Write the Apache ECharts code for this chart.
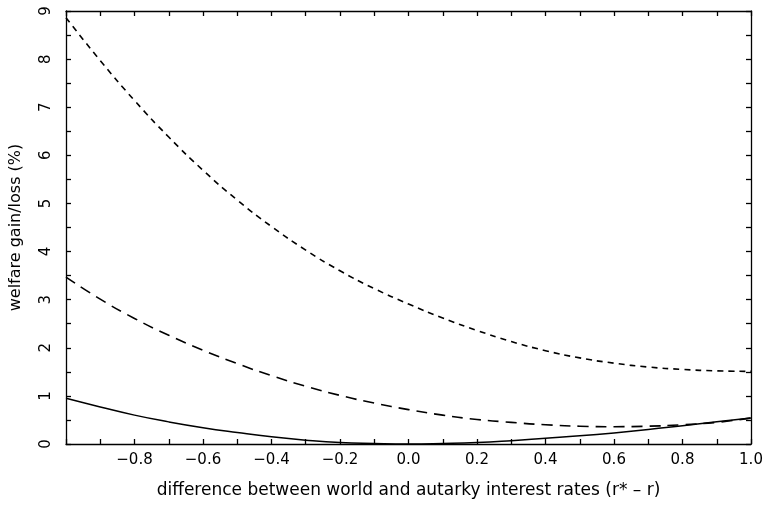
<!DOCTYPE html>
<html><head><meta charset="utf-8">
<script src="https://cdn.jsdelivr.net/npm/echarts@6/dist/echarts.min.js"></script>
<style>html,body{margin:0;padding:0;background:#fff}#c{width:767px;height:506px}</style>
</head><body><div id="c"></div>
<script>
// x values (r* - r)
const xTop = [-1.0, -0.9, -0.8, -0.7, -0.6, -0.5, -0.4, -0.3, -0.2, -0.1, 0.0, 0.1, 0.2, 0.3, 0.4, 0.5, 0.6, 0.7, 0.8, 0.9, 1.0];
const yTop = [8.86, 7.97, 7.14, 6.38, 5.69, 5.07, 4.52, 4.03, 3.60, 3.23, 2.91, 2.62, 2.36, 2.13, 1.94, 1.79, 1.68, 1.60, 1.55, 1.52, 1.51];
const xMid = [-1.0, -0.9, -0.8, -0.7, -0.6, -0.5, -0.4, -0.3, -0.2, -0.1, 0.0, 0.1, 0.2, 0.3, 0.4, 0.5, 0.6, 0.7, 0.8, 0.9, 1.0];
const yMid = [3.47, 3.01, 2.61, 2.26, 1.95, 1.67, 1.42, 1.20, 1.01, 0.85, 0.715, 0.60, 0.51, 0.45, 0.40, 0.37, 0.36, 0.37, 0.40, 0.45, 0.54];
const xSol = [-1.0, -0.9, -0.8, -0.7, -0.6, -0.5, -0.4, -0.3, -0.2, -0.1, 0.0, 0.1, 0.2, 0.3, 0.4, 0.5, 0.6, 0.7, 0.8, 0.9, 1.0];
const ySol = [0.95, 0.77, 0.60, 0.46, 0.34, 0.24, 0.15, 0.08, 0.03, 0.01, 0.00, 0.01, 0.03, 0.07, 0.12, 0.17, 0.23, 0.30, 0.38, 0.46, 0.54];
const xTicks = [-0.8, -0.6, -0.4, -0.2, 0.0, 0.2, 0.4, 0.6, 0.8, 1.0];
const yTicks = [0, 1, 2, 3, 4, 5, 6, 7, 8, 9];

const pairs = (xs, ys) => xs.map((x, i) => [x, ys[i]]);
const font = '"DejaVu Sans", "Liberation Sans", Arial, sans-serif';
const axisLine = {show: true, onZero: false, lineStyle: {color: '#000', width: 1.3}};
const tick = {show: true, inside: true, length: 5, lineStyle: {color: '#000', width: 1.3}};
const minor = {show: true, splitNumber: 2, length: 5, lineStyle: {color: '#000', width: 1.3}};

const chart = echarts.init(document.getElementById('c'));
chart.setOption({
  animation: false,
  backgroundColor: '#fff',
  grid: {left: 63, right: 16, top: 11, bottom: 62},
  xAxis: [{
    type: 'value', min: -1, max: 1, interval: 0.2, position: 'bottom',
    axisLine, axisTick: tick, minorTick: minor, splitLine: {show: false},
    axisLabel: {
      color: '#000', fontFamily: font, fontSize: 15, margin: 9,
      formatter: v => {
        const r = Math.round(v * 10) / 10;
        if (!xTicks.some(t => Math.abs(t - r) < 1e-9)) return '';
        return r.toFixed(1).replace('-', '\u2212');
      }
    },
    name: 'difference between world and autarky interest rates (r* \u2013 r)',
    nameLocation: 'middle', nameGap: 38,
    nameTextStyle: {color: '#000', fontFamily: font, fontSize: 17}
  }, {
    type: 'value', min: -1, max: 1, interval: 0.2, position: 'top',
    axisLine, axisTick: tick, minorTick: minor, splitLine: {show: false},
    axisLabel: {show: false}
  }],
  yAxis: [{
    type: 'value', min: 0, max: 9, interval: 1, position: 'left',
    axisLine, axisTick: tick, minorTick: minor, splitLine: {show: false},
    axisLabel: {
      color: '#000', fontFamily: font, fontSize: 15, margin: 12, rotate: 90,
      formatter: v => yTicks.includes(v) ? String(v) : ''
    },
    name: 'welfare gain/loss (%)', nameLocation: 'middle', nameGap: 42, nameRotate: 90,
    nameTextStyle: {color: '#000', fontFamily: font, fontSize: 16}
  }, {
    type: 'value', min: 0, max: 9, interval: 1, position: 'right',
    axisLine, axisTick: tick, minorTick: minor, splitLine: {show: false},
    axisLabel: {show: false}
  }],
  series: [
    {type: 'line', data: pairs(xTop, yTop), smooth: true, symbol: 'none',
     lineStyle: {color: '#000', width: 1.6, type: [6, 5]}},
    {type: 'line', data: pairs(xMid, yMid), smooth: true, symbol: 'none',
     lineStyle: {color: '#000', width: 1.6, type: [11, 7]}},
    {type: 'line', data: pairs(xSol, ySol), smooth: true, symbol: 'none',
     lineStyle: {color: '#000', width: 1.5, type: 'solid'}}
  ]
});
</script></body></html>
